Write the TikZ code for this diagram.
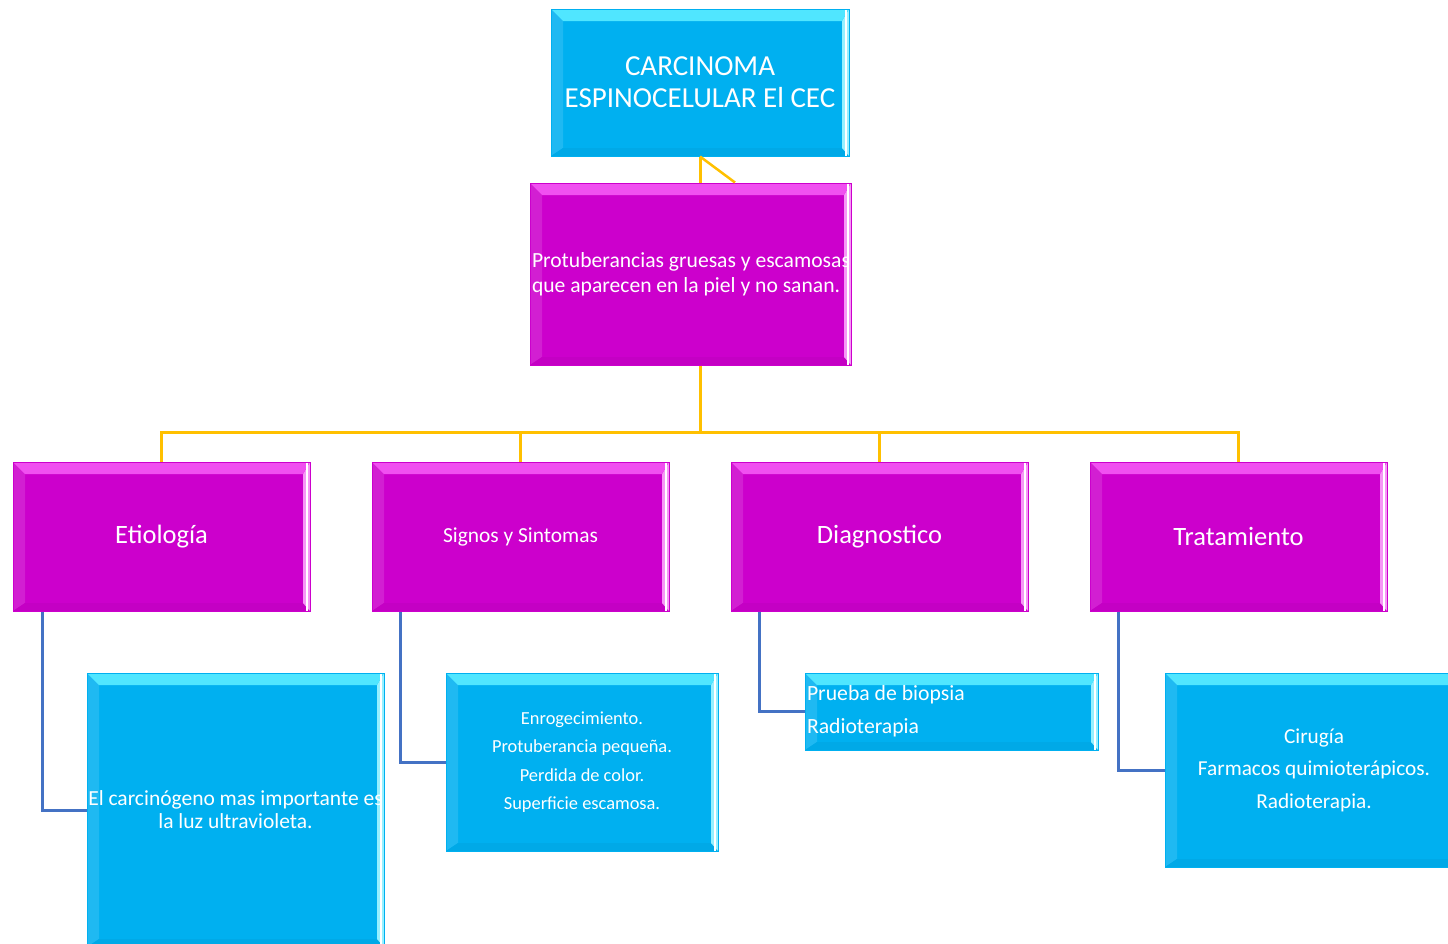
\documentclass[tikz,border=0pt]{standalone}
\usepackage{fontspec}
\setmainfont{Carlito}
\newcommand\normsp{\spaceskip=0pt\relax\xspaceskip=0pt\relax}
\definecolor{cy}{HTML}{00B0F0}
\definecolor{cyl}{HTML}{50E6FF}
\definecolor{mg}{HTML}{CC00CC}
\definecolor{mgl}{HTML}{F050F0}
\definecolor{yl}{HTML}{FFC000}
\definecolor{bl}{HTML}{4472C4}
\tikzset{
  bev/.style 2 args={fill=#1, draw=#1, line width=1pt, text=white, inner sep=0pt,
    path picture={
      \path (path picture bounding box.north west) coordinate (pnw)
            (path picture bounding box.south east) coordinate (pse);
      \fill[#1!88!white] (pnw) -- ([shift={(12pt,-12pt)}]pnw) -- ([shift={(12pt,8pt)}]pnw |- pse) -- (pnw |- pse) -- cycle;
      \fill[#1!96!black] (pnw |- pse) -- ([shift={(12pt,8pt)}]pnw |- pse) -- ([shift={(-7pt,8pt)}]pse) -- (pse) -- cycle;
      \fill[#2!60!white] (pse) -- ([shift={(-7pt,8pt)}]pse) -- ([shift={(-7pt,-12pt)}]pnw -| pse) -- (pnw -| pse) -- cycle;
      \fill[#2] (pnw) -- (pnw -| pse) -- ([shift={(-7pt,-12pt)}]pnw -| pse) -- ([shift={(12pt,-12pt)}]pnw) -- cycle;
      \draw[white, line width=1.5pt] ([xshift=-3pt]pnw -| pse) -- ([xshift=-3pt]pse);
    }},
  cbox/.style={bev={cy}{cyl}},
  mbox/.style={bev={mg}{mgl}},
  yel/.style={draw=yl, line width=3pt},
  blu/.style={draw=bl, line width=3pt},
}
\begin{document}
\begin{tikzpicture}[x=1pt,y=-1pt]
\useasboundingbox (0,0) rectangle (1448,943);
\coordinate (hub) at (700,432);
% nodes
\node[cbox, minimum width=298pt, minimum height=147pt, align=center,
  font=\fontsize{29}{32}\selectfont] (top) at (700,82.5)
  {\normsp CARCINOMA\\\normsp ESPINOCELULAR El CEC};
\node[mbox, minimum width=321pt, minimum height=182pt, text width=317pt, align=left,
  font=\fontsize{21.6}{25}\selectfont] (prot) at (690.5,274)
  {\normsp\mbox{Protuberancias gruesas y escamosas}\\\mbox{que aparecen en la piel y no sanan.}};
\node[mbox, minimum width=297pt, minimum height=149pt,
  font=\fontsize{26.5}{30}\selectfont] (etio) at (161.5,536.5) {Etiología};
\node[mbox, minimum width=297pt, minimum height=149pt,
  font=\fontsize{21.4}{25}\selectfont] (sig) at (520.5,536.5) {Signos y Sintomas};
\node[mbox, minimum width=297pt, minimum height=149pt,
  font=\fontsize{26.5}{30}\selectfont] (diag) at (879.5,536.5) {Diagnostico};
\node[mbox, minimum width=297pt, minimum height=149pt,
  font=\fontsize{26.5}{30}\selectfont] (trat) at (1238.5,536.5) {Tratamiento};
\node[cbox, minimum width=297pt, minimum height=274pt, align=center,
  font=\fontsize{21.5}{23}\selectfont] (etioc) at (235.5,810)
  {\normsp\mbox{El carcinógeno mas importante es}\\\normsp la luz ultravioleta.};
\node[cbox, minimum width=272pt, minimum height=178pt, align=center,
  font=\fontsize{18.4}{28.5}\selectfont] (sigc) at (582,762)
  {Enrogecimiento.\\\normsp Protuberancia pequeña.\\\normsp Perdida de color.\\\normsp Superficie escamosa.};
\node[cbox, minimum width=293pt, minimum height=77pt, text width=289pt, align=left,
  font=\fontsize{21.7}{33}\selectfont] (diagc) at (951.5,711.5)
  {\normsp\mbox{Prueba de biopsia}\\\mbox{Radioterapia}};
\node[cbox, minimum width=298pt, minimum height=194pt, align=center,
  font=\fontsize{21.3}{32.5}\selectfont] (tratc) at (1314,770)
  {Cirugía\\\normsp Farmacos quimioterápicos.\\Radioterapia.};
% yellow connectors
\draw[yel] (top.south -| hub) -- (prot.north -| hub);
\draw[yel, line width=2.5pt] (top.south -| hub) -- ([xshift=35pt]prot.north -| hub);
\draw[yel] (prot.south -| hub) -- (hub);
\draw[yel] (hub) -| (etio.north);
\draw[yel] (hub) -| (sig.north);
\draw[yel] (hub) -| (diag.north);
\draw[yel] (hub) -| (trat.north);
% blue connectors
\draw[blu] ([xshift=30pt]etio.south west) |- (etioc.west);
\draw[blu] ([xshift=29pt]sig.south west) |- (sigc.west);
\draw[blu] ([xshift=29pt]diag.south west) |- (diagc.west);
\draw[blu] ([xshift=29pt]trat.south west) |- (tratc.west);
\end{tikzpicture}
\end{document}
